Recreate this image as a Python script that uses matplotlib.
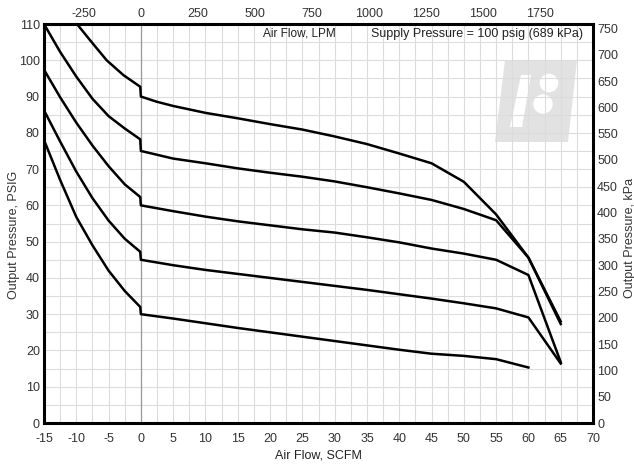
import matplotlib
matplotlib.use("Agg")
import matplotlib.pyplot as plt
import matplotlib.transforms as mtransforms
from matplotlib.patches import Polygon, Circle
import numpy as np

plt.rcParams["axes.unicode_minus"] = False

# --- data (SCFM vs PSIG) ---
flow_90 = [-9.9, -7.9, -5.3, -2.7, -0.1, 0, 2.4, 5, 10, 15, 20, 25, 30, 35, 40, 45, 50, 55, 60, 65]
psig_90 = [110, 105.6, 100, 95.9, 92.7, 90, 88.6, 87.4, 85.5, 84.0, 82.4, 80.9, 79.0, 76.9, 74.3, 71.6, 66.5, 57.5, 45.6, 28.0]

flow_75 = [-15, -12.5, -10, -7.5, -5, -2.5, -0.1, 0, 5, 10, 15, 20, 25, 30, 35, 40, 45, 50, 55, 60, 65]
psig_75 = [110, 102.3, 95.5, 89.4, 84.6, 81.2, 78.2, 75, 72.9, 71.6, 70.2, 69.0, 67.9, 66.6, 65.0, 63.3, 61.5, 59.0, 55.9, 45.6, 27.3]

flow_60 = [-15, -12.5, -10, -7.5, -5, -2.5, -0.1, 0, 5, 10, 15, 20, 25, 30, 35, 40, 45, 50, 55, 60, 65]
psig_60 = [97.4, 89.8, 82.8, 76.5, 70.8, 65.8, 62.3, 60, 58.4, 56.9, 55.6, 54.5, 53.4, 52.5, 51.2, 49.8, 48.1, 46.7, 45.0, 40.8, 16.8]

flow_45 = [-15, -12.5, -10, -7.5, -5, -2.5, -0.1, 0, 5, 10, 15, 20, 25, 30, 35, 40, 45, 50, 55, 60, 65]
psig_45 = [86.2, 77.6, 69.3, 62.0, 55.8, 50.8, 47.2, 45, 43.5, 42.2, 41.1, 40.0, 38.9, 37.8, 36.7, 35.5, 34.3, 33.0, 31.6, 29.1, 16.4]

flow_30 = [-15, -12.5, -10, -7.5, -5, -2.5, -0.1, 0, 5, 10, 15, 20, 25, 30, 35, 40, 45, 50, 55, 60]
psig_30 = [78, 67, 56.8, 49, 42, 36.4, 32, 30, 28.8, 27.5, 26.2, 25.0, 23.8, 22.6, 21.4, 20.2, 19.1, 18.5, 17.6, 15.3]

curves = [(flow_90, psig_90), (flow_75, psig_75), (flow_60, psig_60),
          (flow_45, psig_45), (flow_30, psig_30)]

psig_ticks = list(range(0, 111, 10))
scfm_ticks = list(range(-15, 71, 5))
kpa_ticks = list(range(0, 751, 50))
lpm_ticks = list(range(-250, 1751, 250))

KPA_PER_PSI = 6.895
LPM_PER_SCFM = 28.317

W, H = 634, 467
fig = plt.figure(figsize=(W / 100, H / 100), dpi=100)
ax = fig.add_axes([44 / W, 1 - 423 / H, 549 / W, 399 / H])

fnt = ["Liberation Sans", "DejaVu Sans"]
narrow = ["Liberation Sans Narrow", "Liberation Sans", "DejaVu Sans"]

ax.set_xlim(-15, 70)
ax.set_ylim(0, 110)
ax.set_xticks(scfm_ticks)
ax.set_yticks(psig_ticks)
ax.set_xticks(np.arange(-15, 70.1, 2.5), minor=True)
ax.set_yticks(np.arange(0, 110.1, 5), minor=True)
ax.set_axisbelow(True)
ax.grid(which="both", color="#dcdcdc", linewidth=0.8)
ax.axvline(0, color="#9a9a9a", linewidth=0.9, zorder=0.6)
ax.tick_params(which="both", length=0, labelsize=9, colors="#333333")
ax.tick_params(axis="x", pad=7)
ax.tick_params(axis="y", pad=3)
for lab in ax.get_xticklabels() + ax.get_yticklabels():
    lab.set_family(fnt)

for s in ax.spines.values():
    s.set_linewidth(2.2)
    s.set_color("black")

for fl, ps in curves:
    ax.plot(fl, ps, color="black", linewidth=1.8, solid_joinstyle="round", zorder=3)

# right kPa axis
axr = ax.twinx()
axr.set_ylim(0, 110 * KPA_PER_PSI)
axr.set_yticks(kpa_ticks)
axr.tick_params(length=0, labelsize=9, pad=3, colors="#333333")
for lab in axr.get_yticklabels():
    lab.set_family(fnt)

# top LPM axis
axt = ax.twiny()
axt.set_xlim(-15 * LPM_PER_SCFM, 70 * LPM_PER_SCFM)
axt.set_xticks(lpm_ticks)
axt.tick_params(length=0, labelsize=9, pad=3, colors="#333333")
for lab in axt.get_xticklabels():
    lab.set_family(fnt)
for a in (axr, axt):
    for s in a.spines.values():
        s.set_visible(False)

# labels
fig.text(14 / W, 1 - 235 / H, "Output Pressure, PSIG", rotation=90, ha="center", va="center",
         fontsize=9, family=fnt, color="#333333")
fig.text(630 / W, 1 - 238 / H, "Output Pressure, kPa", rotation=90, ha="center", va="center",
         fontsize=9, family=fnt, color="#333333")
fig.text(318 / W, 1 - 456 / H, "Air Flow, SCFM", ha="center", va="center",
         fontsize=9, family=narrow, color="#222222")
fig.text(299 / W, 1 - 34 / H, "Air Flow, LPM", ha="center", va="center",
         fontsize=8.5, family=fnt, color="#222222")
fig.text(583 / W, 1 - 34 / H, "Supply Pressure = 100 psig (689 kPa)", ha="right", va="center",
         fontsize=9, family=narrow, color="#222222")

# watermark logo in pixel coordinates
px = mtransforms.Affine2D().scale(1 / W, -1 / H).translate(0, 1) + fig.transFigure
logo = Polygon([(505, 60), (577, 60), (568, 142), (495, 142)], closed=True,
               facecolor="#e2e2e2", edgecolor="none", transform=px, zorder=0.3)
ax.add_patch(logo)
ax.add_patch(Polygon([(521, 75), (531, 75), (522, 127), (510, 127)], closed=True,
                     facecolor="white", edgecolor="none", transform=px, zorder=0.35))
ax.add_patch(Circle((549, 83), 9.3, facecolor="white", edgecolor="none", transform=px, zorder=0.35))
ax.add_patch(Circle((543, 104), 9.7, facecolor="white", edgecolor="none", transform=px, zorder=0.35))

fig.savefig("out.png", dpi=100)
